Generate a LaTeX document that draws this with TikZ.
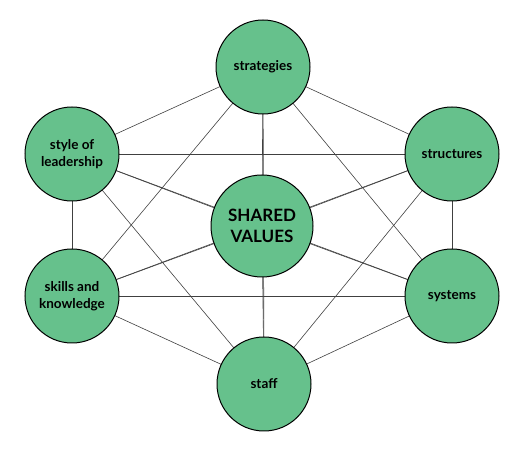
\documentclass[tikz,border=0pt]{standalone}
\usepackage{fontspec}
\setmainfont{Lato}
\begin{document}
\begin{tikzpicture}[x=1pt,y=1pt,
  outer/.style={circle,draw=black,line width=1pt,fill=nodegreen,minimum size=94pt,inner sep=0pt,align=center,font=\fontsize{13.5}{17}\selectfont\bfseries},
  center/.style={circle,draw=black,line width=1pt,fill=nodegreen,minimum size=102pt,inner sep=0pt,align=center,font=\fontsize{17}{21}\selectfont\bfseries},
  link/.style={draw=black!75,line width=0.6pt}]
\definecolor{nodegreen}{RGB}{102,193,140}
\useasboundingbox (0,0) rectangle (524,449);
\coordinate (pA) at (263,382);
\coordinate (pB) at (72,295);
\coordinate (pC) at (452,295);
\coordinate (pD) at (262,223);
\coordinate (pE) at (72,153);
\coordinate (pF) at (452,153);
\coordinate (pG) at (264,65);
\foreach \a/\b in {A/B,A/C,A/D,A/E,A/F,A/G,B/C,B/D,B/E,B/F,B/G,C/D,C/E,C/F,C/G,D/E,D/F,D/G,E/F,E/G,F/G}
  \draw[link] (p\a) -- (p\b);
\node[outer] (strategies) at (pA) {strategies};
\node[outer] (style) at (pB) {style of\\leadership};
\node[outer] (structures) at (pC) {structures};
\node[center] (shared) at (pD) {SHARED\\VALUES};
\node[outer] (skills) at (pE) {skills and\\knowledge};
\node[outer] (systems) at (pF) {systems};
\node[outer] (staff) at (pG) {staff};
\end{tikzpicture}
\end{document}
